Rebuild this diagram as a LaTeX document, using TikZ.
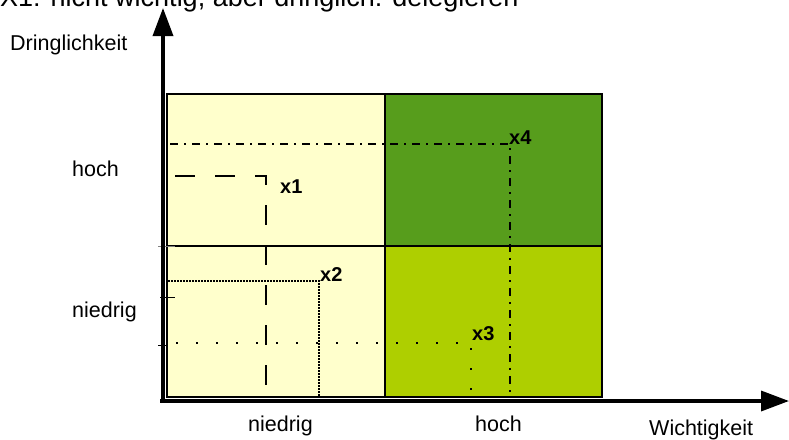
\documentclass[tikz,border=0pt]{standalone}
\usepackage{fontspec}
\setmainfont{Liberation Sans}
\usetikzlibrary{arrows.meta}
\definecolor{lightyel}{HTML}{FFFFCC}
\definecolor{darkgreen}{HTML}{579D1C}
\definecolor{limegreen}{HTML}{AECF00}
\begin{document}
\begin{tikzpicture}[x=1pt,y=-1pt,
  lbl/.style={font=\fontsize{21.5}{24}\selectfont, inner sep=0, anchor=base west},
  xl/.style={font=\bfseries\fontsize{20}{22}\selectfont, inner sep=0, anchor=base west},
  axis/.style={line width=3.5pt, -{Triangle[length=28pt,width=20pt]}},
  grid/.style={line width=2pt},
  tick/.style={line width=1pt}]
\useasboundingbox (0,0) rectangle (789,439);
% quadrants
\fill[lightyel] (167,94) rectangle (385,397);
\fill[darkgreen] (385,94) rectangle (602,246);
\fill[limegreen] (385,246) rectangle (602,397);
\draw[grid] (167,94) rectangle (602,397);
\draw[grid] (385,94) -- (385,397);
\draw[grid] (167,246) -- (602,246);
% marker lines
\coordinate (p1a) at (175,176); \coordinate (p1) at (266,176); \coordinate (p1b) at (266,387);
\coordinate (p2a) at (168,281); \coordinate (p2) at (319,281); \coordinate (p2b) at (319,397);
\coordinate (p3a) at (176,343); \coordinate (p3) at (471,343); \coordinate (p3b) at (471,397);
\coordinate (p4a) at (170,144); \coordinate (p4) at (510,144); \coordinate (p4b) at (510,397);
\draw[line width=2pt, dash pattern=on 20pt off 20pt] (p1a) -- (p1) -- (p1b);
\draw[line width=1.5pt, dash pattern=on 1.5pt off 1.5pt] (p2a) -- (p2) -- (p2b);
\draw[line width=2pt, dash pattern=on 2pt off 18pt] (p3a) -- (p3) -- (p3b);
\draw[line width=2pt, dash pattern=on 8pt off 6pt on 2pt off 6pt] (p4a) -- (p4) -- (p4b);
\node[xl] (x1) at (280,193) {x1};
\node[xl] (x2) at (320,281) {x2};
\node[xl] (x3) at (472,340) {x3};
\node[xl] (x4) at (509,144) {x4};
% ticks
\draw[tick, gray] (158,246) -- (175,246);
\draw[tick] (160,297) -- (175,297);
\draw[tick] (158,345) -- (168,345);
% axes
\coordinate (o1) at (163,403); \coordinate (ytip) at (163,8);
\coordinate (o2) at (160,401); \coordinate (xtip) at (789,401);
\draw[axis] (o1) -- (ytip);
\draw[axis] (o2) -- (xtip);
% labels
\node[anchor=base west, inner sep=0, font=\fontsize{27}{30}\selectfont] (title) at (0,6) {X1: nicht wichtig, aber dringlich: delegieren};
\node[lbl] (dr) at (10,50) {Dringlichkeit};
\node[lbl] (hl) at (72,176) {hoch};
\node[lbl] (nl) at (72,317) {niedrig};
\node[lbl] (nb) at (248,431) {niedrig};
\node[lbl] (hb) at (475,431) {hoch};
\node[lbl] (wi) at (649,435) {Wichtigkeit};
\end{tikzpicture}
\end{document}
